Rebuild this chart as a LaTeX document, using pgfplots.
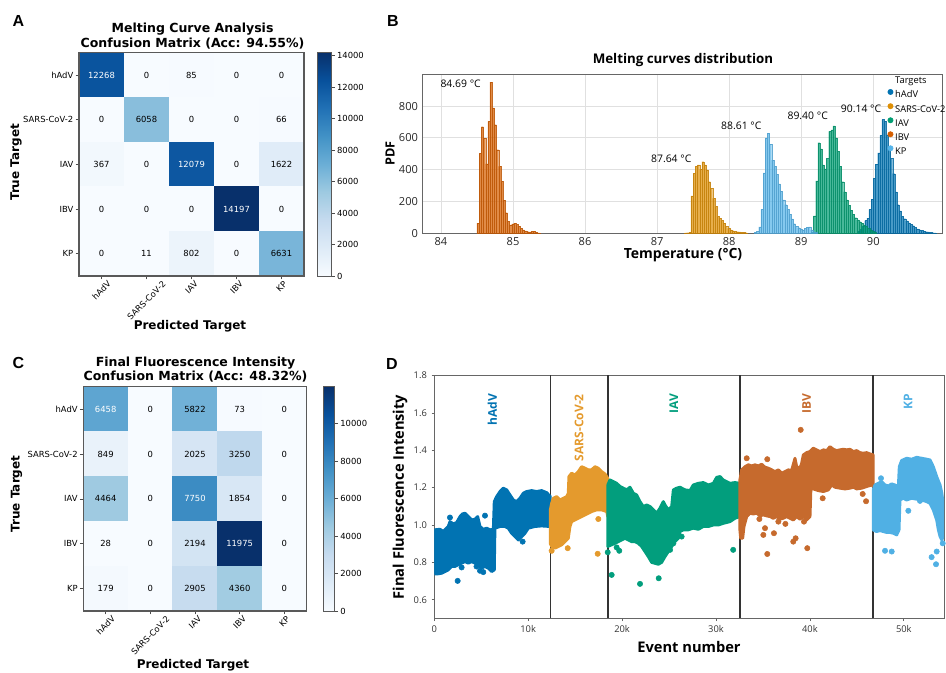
\documentclass[border=0pt]{standalone}
\usepackage{fontspec}
\setmainfont{DejaVu Sans}
\newfontfamily\os{Open Sans}
\newfontfamily\ls{Liberation Sans}
\usepackage{graphicx}
\usepackage{pgfplots}
\pgfplotsset{compat=1.18}

% seaborn "colorblind" palette
\definecolor{cHadv}{RGB}{1,115,178}
\definecolor{cSars}{RGB}{222,143,5}
\definecolor{cIav}{RGB}{2,158,115}
\definecolor{cIbv}{RGB}{213,94,0}
\definecolor{cKp}{RGB}{86,180,233}
% scatter colours of panel D as they look
\definecolor{dSars}{RGB}{228,154,45}
\definecolor{dIav}{RGB}{2,158,125}
\definecolor{dIbv}{RGB}{198,106,45}
\definecolor{dKp}{RGB}{80,176,228}

\newcommand{\tickfont}{\fontsize{6.3}{7.5}\selectfont}
\newcommand{\labfont}{\bfseries\fontsize{9}{10}\selectfont}

\pgfplotsset{
  colormap={blues}{rgb255=(247,251,255) rgb255=(222,235,247) rgb255=(198,219,239)
    rgb255=(158,202,225) rgb255=(107,174,214) rgb255=(66,146,198)
    rgb255=(33,113,181) rgb255=(8,81,156) rgb255=(8,48,107)},
  cmat/.style={
    scale only axis, anchor=south west,
    xmin=-0.5, xmax=4.5, ymin=-0.5, ymax=4.5, y dir=reverse,
    enlargelimits=false, axis on top,
    xtick={0,1,2,3,4}, ytick={0,1,2,3,4},
    xticklabels={\rotatebox{45}{hAdV},\rotatebox{45}{SARS-CoV-2},\rotatebox{45}{IAV},\rotatebox{45}{IBV},\rotatebox{45}{KP}},
    yticklabels={hAdV,SARS-CoV-2,IAV,IBV,KP},
    tick align=outside, xtick pos=left, ytick pos=left,
    major tick length=2.6pt,
    tick style={black!70, line width=0.5pt},
    axis line style={black!65, line width=0.8pt},
    tick label style={font=\tickfont},
    xticklabel style={anchor=north, inner sep=0.5pt},
    yticklabel style={inner sep=1.5pt},
    colormap name=blues, point meta min=0,
    colorbar,
  },
  cbar/.style={
    at={(parent axis.north east)}, anchor=north west,
    tick align=outside, ytick pos=right, yticklabel pos=right,
    major tick length=2.6pt,
    tick style={black!70, line width=0.5pt},
    axis line style={black!65, line width=0.7pt},
    yticklabel style={font=\tickfont, inner sep=1.5pt},
    scaled y ticks=false,
    /pgf/number format/1000 sep={},
    /pgf/number format/assume math mode=true,
  },
  cnum/.style={only marks, mark=none, point meta=explicit symbolic,
    nodes near coords, nodes near coords align=center,
    every node near coord/.append style={font=\tickfont, text=#1, inner sep=0pt}},
  hist/.style={ybar interval, fill=#1, fill opacity=0.72, draw=#1!88!black,
    draw opacity=0.85, line width=0.12pt, forget plot},
  band/.style={fill=#1, draw=#1, line width=2.2pt, line join=round},
  outl/.style={only marks, mark=*, mark size=2pt, color=#1},
}

\begin{document}
\begin{tikzpicture}
\useasboundingbox (0,0) rectangle (709.5pt,504.75pt);

% ---------------- A : melting curve confusion matrix
\begin{axis}[cmat, at={(59.25pt,297.75pt)}, width=168.75pt, height=167.5pt,
  point meta max=14197,
  colorbar style={cbar, xshift=1.5pt, width=10.5pt, ytick={0,2000,...,14000}}]
\addplot[matrix plot*, mesh/cols=5, point meta=explicit] coordinates {
 (0,0) [12268] (1,0) [0] (2,0) [85] (3,0) [0] (4,0) [0]
 (0,1) [0] (1,1) [6058] (2,1) [0] (3,1) [0] (4,1) [66]
 (0,2) [367] (1,2) [0] (2,2) [12079] (3,2) [0] (4,2) [1622]
 (0,3) [0] (1,3) [0] (2,3) [0] (3,3) [14197] (4,3) [0]
 (0,4) [0] (1,4) [11] (2,4) [802] (3,4) [0] (4,4) [6631]
};
\addplot[cnum=black] coordinates {
 (1,0) [0] (2,0) [85] (3,0) [0] (4,0) [0]
 (0,1) [0] (1,1) [6058] (2,1) [0] (3,1) [0] (4,1) [66]
 (0,2) [367] (1,2) [0] (3,2) [0] (4,2) [1622]
 (0,3) [0] (1,3) [0] (2,3) [0] (4,3) [0]
 (0,4) [0] (1,4) [11] (2,4) [802] (3,4) [0] (4,4) [6631]
};
\addplot[cnum=white] coordinates {(0,0) [12268] (2,2) [12079] (3,3) [14197]};
\end{axis}

% ---------------- C : final fluorescence confusion matrix
\begin{axis}[cmat, at={(62.5pt,46.5pt)}, width=167.5pt, height=168.2pt,
  point meta max=11975,
  colorbar style={cbar, xshift=3.75pt, width=8.7pt, ytick={0,2000,...,10000}}]
\addplot[matrix plot*, mesh/cols=5, point meta=explicit] coordinates {
 (0,0) [6458] (1,0) [0] (2,0) [5822] (3,0) [73] (4,0) [0]
 (0,1) [849] (1,1) [0] (2,1) [2025] (3,1) [3250] (4,1) [0]
 (0,2) [4464] (1,2) [0] (2,2) [7750] (3,2) [1854] (4,2) [0]
 (0,3) [28] (1,3) [0] (2,3) [2194] (3,3) [11975] (4,3) [0]
 (0,4) [179] (1,4) [0] (2,4) [2905] (3,4) [4360] (4,4) [0]
};
\addplot[cnum=black] coordinates {
 (1,0) [0] (2,0) [5822] (3,0) [73] (4,0) [0]
 (0,1) [849] (1,1) [0] (2,1) [2025] (3,1) [3250] (4,1) [0]
 (0,2) [4464] (1,2) [0] (3,2) [1854] (4,2) [0]
 (0,3) [28] (1,3) [0] (2,3) [2194] (4,3) [0]
 (0,4) [179] (1,4) [0] (2,4) [2905] (3,4) [4360] (4,4) [0]
};
\addplot[cnum=white] coordinates {(0,0) [6458] (2,2) [7750] (3,3) [11975]};
\end{axis}

% ---------------- B : melting curve histograms
\begin{axis}[at={(317pt,329.8pt)}, anchor=south west, scale only axis,
  width=390.2pt, height=119.25pt,
  xmin=83.746, xmax=90.967, ymin=0, ymax=1000,
  xtick={84,85,...,90}, ytick={0,200,...,800},
  grid=major, grid style={black!12, line width=0.6pt},
  axis line style={black!60, line width=0.7pt},
  major tick length=0pt,
  tick label style={font=\os\fontsize{8.3}{10}\selectfont, text=black!85},
  /pgf/number format/assume math mode=true,
  legend cell align=left,
  legend style={at={(0.893,0.995)}, anchor=north west, draw=none, fill=none,
    font=\os\fontsize{7}{8}\selectfont, row sep=1.2pt, inner sep=0pt,
    nodes={inner sep=1.3pt}},
  legend image code/.code={\fill[#1] (0.05cm,0.09cm) circle (2pt);},
]
\addlegendimage{empty legend}\addlegendentry{Targets}
\addlegendimage{cHadv}\addlegendentry{hAdV}
\addlegendimage{cSars}\addlegendentry{SARS-CoV-2}
\addlegendimage{cIav}\addlegendentry{IAV}
\addlegendimage{cIbv}\addlegendentry{IBV}
\addlegendimage{cKp}\addlegendentry{KP}

\addplot[hist=cHadv] table {
x y
89.79 15
89.82 25
89.85 45
89.88 80
89.91 95
89.94 150
89.97 215
90.00 345
90.03 435
90.06 505
90.09 615
90.12 715
90.15 705
90.18 615
90.21 530
90.24 470
90.27 375
90.30 260
90.33 180
90.36 140
90.39 105
90.42 92
90.45 78
90.48 66
90.51 56
90.54 48
90.57 36
90.60 28
90.63 22
90.66 18
90.69 14
90.72 10
90.75 8
90.78 6
90.81 4
90.84 3
90.87 0
};
\addplot[hist=cSars] table {
x y
87.38 3
87.41 4
87.44 6
87.47 235
87.50 377
87.53 420
87.56 430
87.59 402
87.62 450
87.65 430
87.68 398
87.71 325
87.74 283
87.77 220
87.80 168
87.83 105
87.86 94
87.89 80
87.92 63
87.95 42
87.98 31
88.01 21
88.04 16
88.07 12
88.10 10
88.13 8
88.16 6
88.19 5
88.22 4
88.25 0
};
\addplot[hist=cIav] table {
x y
89.14 5
89.17 110
89.20 330
89.23 570
89.26 530
89.29 430
89.32 405
89.35 470
89.38 640
89.41 650
89.44 675
89.47 600
89.50 515
89.53 420
89.56 325
89.59 260
89.62 210
89.65 175
89.68 145
89.71 118
89.74 98
89.77 84
89.80 73
89.83 63
89.86 52
89.89 42
89.92 31
89.95 21
89.98 12
90.01 6
90.04 0
};
\addplot[hist=cIbv] table {
x y
84.50 63
84.53 503
84.56 670
84.59 597
84.62 436
84.65 704
84.68 951
84.71 788
84.74 683
84.77 526
84.80 420
84.83 326
84.86 209
84.89 130
84.92 74
84.95 52
84.98 59
85.01 63
85.04 55
85.07 45
85.10 30
85.13 22
85.16 15
85.19 10
85.22 8
85.25 12
85.28 14
85.31 6
85.34 3
85.37 0
};
\addplot[hist=cKp] table {
x y
88.35 5
88.38 12
88.41 40
88.44 150
88.47 380
88.50 600
88.53 630
88.56 560
88.59 460
88.62 420
88.65 370
88.68 310
88.71 265
88.74 210
88.77 180
88.80 150
88.83 120
88.86 90
88.89 60
88.92 45
88.95 35
88.98 28
89.01 22
89.04 30
89.07 38
89.10 40
89.13 22
89.16 10
89.19 5
89.22 0
};
\begin{scope}[font=\os\fontsize{7.8}{9}\selectfont]
\node at (axis cs:84.273,937) {84.69 °C};
\node at (axis cs:87.196,469) {87.64 °C};
\node at (axis cs:88.168,677) {88.61 °C};
\node at (axis cs:89.09,739) {89.40 °C};
\node at (axis cs:89.83,781) {90.14 °C};
\end{scope}
\end{axis}

% ---------------- D : final fluorescence per event
\begin{axis}[at={(325.7pt,40.9pt)}, anchor=south west, scale only axis,
  width=382.3pt, height=182.25pt,
  xmin=0, xmax=54280, ymin=0.5, ymax=1.8,
  xtick={0,10000,20000,30000,40000,50000}, xticklabels={0,10k,20k,30k,40k,50k},
  ytick={0.6,0.8,1.0,1.2,1.4,1.6,1.8},
  scaled x ticks=false,
  tick align=outside, xtick pos=left, ytick pos=left, major tick length=2pt,
  tick style={black!60, line width=0.5pt},
  axis line style={black!60, line width=0.7pt},
  tick label style={font=\os\fontsize{7}{8}\selectfont, text=black!80},
  yticklabel style={/pgf/number format/.cd, fixed, fixed zerofill, precision=1},
  /pgf/number format/assume math mode=true,
]
\addplot[ycomb, mark=none, black!80, line width=1.1pt]
  coordinates {(12353,1.8) (18477,1.8) (32545,1.8) (46742,1.8)};

% hAdV
\addplot[band=cHadv] coordinates {
(0,0.974) (610,0.977) (960,0.965) (1490,0.992) (1670,1.018) (2030,1.006) (2380,1.013)
(2740,1.045) (2990,1.059) (3270,1.063) (3620,1.045) (3980,1.027) (4330,1.031) (4620,1.045)
(4870,0.992) (5220,0.977) (5580,0.983) (5930,0.974) (6290,0.977) (6390,1.125) (6640,1.152)
(7000,1.179) (7350,1.197) (7710,1.188) (8060,1.161) (8420,1.134) (8770,1.125) (9130,1.143)
(9480,1.170) (9840,1.179) (10370,1.184) (10900,1.179) (11430,1.184) (11970,1.173) (12353,1.152)
(12353,0.992) (11430,0.995) (10720,0.992) (10010,0.983) (9660,0.956) (9300,0.938) (8950,0.920)
(8590,0.938) (8240,0.956) (7880,0.983) (7530,0.992) (7000,0.992) (6460,0.983) (6390,0.760)
(6110,0.751) (5750,0.769) (5400,0.778) (5040,0.769) (4690,0.787) (4330,0.796) (3980,0.804)
(3620,0.796) (3270,0.804) (2910,0.796) (2560,0.787) (2200,0.778) (1850,0.778) (1490,0.760)
(1140,0.751) (780,0.742) (430,0.739) (0,0.739) (0,0.974)
};
\addplot[outl=cHadv] coordinates {
(1670,1.040) (5400,1.050) (2490,0.701) (2910,0.773) (4500,0.778) (4870,0.755)
(5220,0.748) (6230,0.766) (9410,0.911)
};
% SARS-CoV-2
\addplot[band=dSars] coordinates {
(12353,1.080) (12500,1.116) (12680,1.143) (13030,1.152) (13390,1.134) (13740,1.143)
(14100,1.152) (14270,1.170) (14340,1.259) (14630,1.277) (14980,1.268) (15340,1.286)
(15690,1.312) (16050,1.304) (16400,1.295) (16760,1.295) (17110,1.312) (17470,1.304)
(17820,1.286) (18180,1.273) (18477,1.250)
(18477,1.045) (18360,1.072) (17820,1.081) (17290,1.081) (16760,1.072) (16400,1.063)
(16050,1.054) (15690,1.045) (15340,1.036) (14980,1.027) (14630,1.018) (14450,0.992)
(14270,0.929) (13920,0.911) (13560,0.894) (13210,0.885) (12850,0.876) (12500,0.885)
(12353,0.900) (12353,1.080)
};
\addplot[outl=dSars] coordinates {(12500,0.862) (14210,0.876) (17400,0.846) (17470,1.032)};
% IAV
\addplot[band=dIav] coordinates {
(18477,1.214) (18710,1.241) (19070,1.232) (19420,1.223) (19780,1.206) (20130,1.197)
(20490,1.188) (20840,1.202) (21200,1.170) (21550,1.161) (21910,1.125) (22260,1.099)
(22620,1.107) (22970,1.099) (23330,1.081) (23680,1.063) (24040,1.090) (24390,1.125)
(24570,1.107) (24920,1.081) (25280,1.099) (25460,1.188) (25810,1.197) (26170,1.202)
(26700,1.188) (27230,1.184) (27580,1.214) (28120,1.223) (28650,1.227) (29190,1.214)
(29720,1.223) (30070,1.255) (30430,1.259) (30780,1.241) (31130,1.232) (31490,1.223)
(32020,1.227) (32545,1.223)
(32545,1.045) (32020,1.036) (31490,1.018) (30780,1.009) (30250,1.000) (29720,1.000)
(29190,0.992) (28650,0.992) (28120,0.977) (27580,0.983) (27050,0.974) (26520,0.974)
(26170,0.965) (25990,0.929) (25630,0.911) (25280,0.885) (24920,0.858) (24570,0.831)
(24210,0.800) (23860,0.790) (23500,0.795) (23150,0.800) (22790,0.831) (22440,0.858)
(22080,0.885) (21730,0.902) (21370,0.911) (21020,0.911) (20660,0.920) (20310,0.929)
(19950,0.920) (19600,0.911) (19250,0.902) (18890,0.894) (18477,0.885) (18477,1.214)
};
\addplot[outl=dIav] coordinates {
(18470,0.854) (18890,0.733) (19420,0.880) (19700,0.862) (21910,0.685) (23900,0.715)
(25110,0.867) (25460,0.902) (26340,0.938) (31830,0.867)
};
% IBV
\addplot[band=dIbv] coordinates {
(32545,1.241) (32730,1.295) (33090,1.312) (33440,1.322) (33800,1.316) (34150,1.322)
(34510,1.316) (34860,1.325) (35220,1.309) (35570,1.304) (35930,1.295) (36280,1.286)
(36640,1.295) (36990,1.277) (37350,1.286) (37700,1.295) (38050,1.291) (38410,1.357)
(38590,1.312) (38940,1.304) (39120,1.330) (39300,1.375) (39650,1.387) (40010,1.393)
(40360,1.411) (40720,1.402) (41070,1.393) (41430,1.402) (41790,1.398) (42140,1.419)
(42500,1.405) (42850,1.398) (43200,1.402) (43560,1.405) (43920,1.402) (44270,1.405)
(44630,1.393) (44980,1.398) (45340,1.387) (45690,1.384) (46050,1.387) (46400,1.380)
(46742,1.375)
(46742,1.206) (46580,1.214) (46050,1.206) (45520,1.197) (44980,1.193) (44630,1.202)
(44270,1.197) (43740,1.193) (43200,1.197) (42670,1.202) (42320,1.214) (41960,1.188)
(41430,1.179) (40900,1.184) (40360,1.193) (40110,1.202) (40010,1.045) (39650,1.027)
(39300,1.045) (38940,1.031) (38590,1.045) (38230,1.027) (37880,1.036) (37520,1.045)
(37170,1.036) (36810,1.031) (36460,1.045) (36100,1.036) (35750,1.045) (35390,1.049)
(35040,1.054) (34690,1.049) (34330,1.063) (33980,1.059) (33620,1.063) (33270,1.045)
(32980,0.992) (32840,0.929) (32630,0.929) (32545,0.974) (32545,1.241)
};
\addplot[outl=dIbv] coordinates {
(39020,1.509) (33270,1.357) (35460,1.352) (34620,1.032) (35220,0.983) (35040,0.947)
(36170,0.956) (35460,0.845) (36640,1.018) (37390,1.006) (38230,0.911) (38480,0.929)
(39720,0.876) (39370,1.018) (41360,1.143) (45620,1.166) (45980,1.127)
};
% KP
\addplot[band=dKp] coordinates {
(46742,1.188) (46930,1.214) (47290,1.223) (47640,1.232) (48000,1.214) (48350,1.209)
(48710,1.220) (49060,1.214) (49420,1.206) (49520,1.312) (49770,1.345) (50300,1.357)
(50840,1.352) (51370,1.362) (51900,1.357) (52430,1.352) (52790,1.348) (53140,1.312)
(53500,1.259) (53860,1.214) (54050,1.170) (54186,1.116)
(54186,0.938) (54050,0.920) (53860,0.938) (53680,0.974) (53500,1.027) (53140,1.081)
(52790,1.116) (52430,1.125) (51900,1.134) (51370,1.138) (50840,1.143) (50300,1.134)
(49950,1.143) (49590,1.134) (49490,0.974) (49240,0.947) (48880,0.956) (48530,0.960)
(48170,0.960) (47820,0.965) (47460,0.970) (47100,0.965) (46742,0.974) (46742,1.188)
};
\addplot[outl=dKp] coordinates {
(47570,1.250) (48000,0.862) (48710,0.858) (50480,1.076) (51720,1.129) (52960,0.828)
(53500,0.858) (53430,0.790) (54140,0.902)
};
\begin{scope}[font=\os\bfseries\fontsize{9}{10}\selectfont]
\node[rotate=90, anchor=east, text=cHadv] at (axis cs:6176,1.725) {hAdV};
\node[rotate=90, anchor=east, text=dSars] at (axis cs:15415,1.725) {SARS-CoV-2};
\node[rotate=90, anchor=east, text=dIav] at (axis cs:25511,1.725) {IAV};
\node[rotate=90, anchor=east, text=dIbv] at (axis cs:39644,1.725) {IBV};
\node[rotate=90, anchor=east, text=dKp] at (axis cs:50464,1.725) {KP};
\end{scope}
\end{axis}

% ---------------- titles, axis labels, panel letters (px grid, y up)
\begin{scope}[x=0.75pt, y=0.75pt]
\begin{scope}[font=\ls\bfseries\fontsize{12}{14}\selectfont]
\node at (18.5,652) {A};
\node at (393,652) {B};
\node at (18.5,310) {C};
\node at (392,309) {D};
\end{scope}
\begin{scope}[font=\bfseries\fontsize{9.4}{11}\selectfont]
\node[anchor=base] at (192.5,640) {Melting Curve Analysis};
\node[anchor=base] at (192.5,625.7) {Confusion Matrix (Acc: 94.55\%)};
\node[anchor=base] at (195.5,306.3) {Final Fluorescence Intensity};
\node[anchor=base] at (195.5,292.3) {Confusion Matrix (Acc: 48.32\%)};
\end{scope}
\begin{scope}[font=\labfont]
\node[rotate=90] at (16,510.5) {True Target};
\node at (190,347) {Predicted Target};
\node[rotate=90] at (16.5,179) {True Target};
\node at (193,8) {Predicted Target};
\end{scope}
\node[font=\os\bfseries\fontsize{10}{12}\selectfont] at (683,612.5) {Melting curves distribution};
\node[font=\os\bfseries\fontsize{10.5}{12}\selectfont] at (683,418) {Temperature (°C)};
\node[font=\os\bfseries\fontsize{9.5}{11}\selectfont, rotate=90] at (390,519.7) {PDF};
\node[font=\os\bfseries\fontsize{11}{13}\selectfont, rotate=90] at (400,176) {Final Fluorescence Intensity};
\node[font=\os\bfseries\fontsize{11}{13}\selectfont] at (689,26) {Event number};
\end{scope}
\end{tikzpicture}
\end{document}
